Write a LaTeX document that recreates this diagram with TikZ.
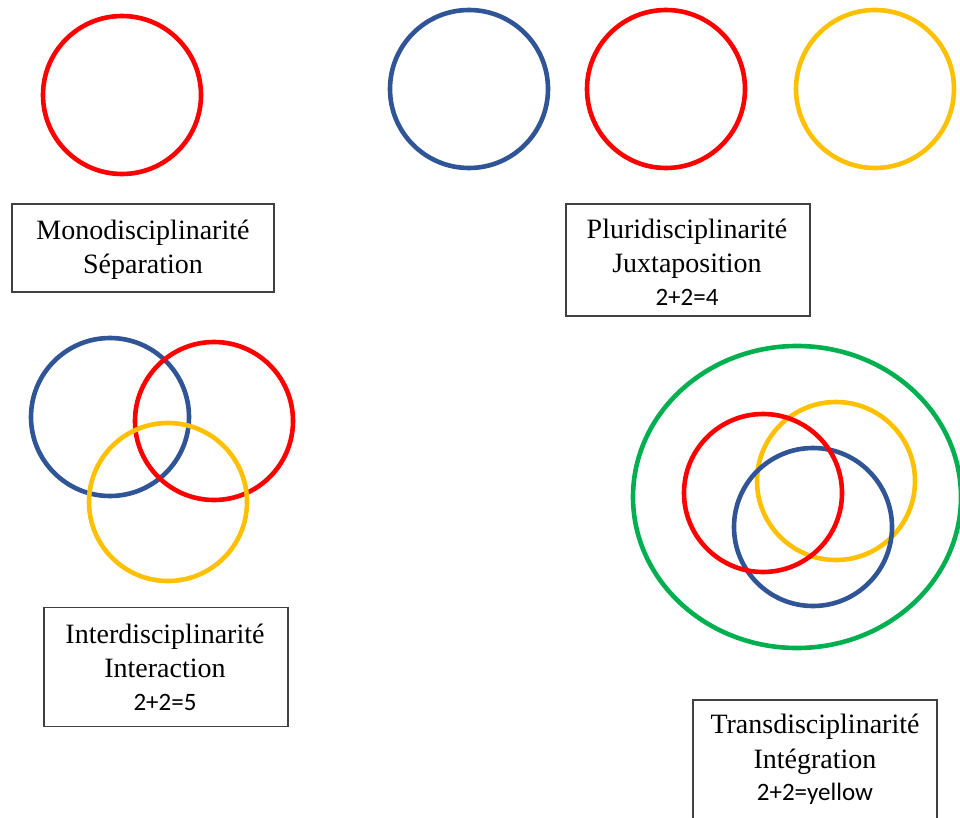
\documentclass[tikz,border=0pt]{standalone}
\usepackage{fontspec}
\setmainfont{Liberation Serif}
\newfontfamily\calib{Carlito}
\definecolor{cred}{HTML}{FF0000}
\definecolor{cblue}{HTML}{2F5597}
\definecolor{cyellow}{HTML}{FFC000}
\definecolor{cgreen}{HTML}{00B050}
\definecolor{cframe}{HTML}{404040}
\begin{document}
\begin{tikzpicture}[x=1pt,y=-1pt,
  ring/.style={line width=4.6pt},
  frame/.style={draw=cframe,line width=1.3pt,fill=none},
  tm/.style={anchor=base,inner sep=0pt,font=\fontsize{28}{32}\selectfont},
  cb/.style={anchor=base,inner sep=0pt,font=\calib\fontsize{25}{28}\selectfont}]
\useasboundingbox (0,0) rectangle (960,818);
\fill[white] (0,0) rectangle (960,818);
% Monodisciplinarite
\draw[ring,cred] (122,95) circle[radius=79];
\node[frame,minimum width=262,minimum height=88,inner sep=0pt] (mono) at (143,248) {};
\node[tm] (mono1) at (143,240) {Monodisciplinarité};
\node[tm] (mono2) at (143,273) {Séparation};
% Pluridisciplinarite
\draw[ring,cblue] (469,89) circle[radius=79];
\draw[ring,cred] (666,89) circle[radius=79];
\draw[ring,cyellow] (875,89) circle[radius=79];
\node[frame,minimum width=244,minimum height=112,inner sep=0pt] (pluri) at (688,260) {};
\node[tm] (pluri1) at (687,238) {Pluridisciplinarité};
\node[tm] (pluri2) at (687,272) {Juxtaposition};
\node[cb] (pluri3) at (687,305) {2+2=4};
% Interdisciplinarite
\draw[ring,cblue] (110,417) circle[radius=79];
\draw[ring,cred] (214,421) circle[radius=79];
\draw[ring,cyellow] (168,502) circle[radius=79];
\node[frame,minimum width=244,minimum height=119,inner sep=0pt] (inter) at (166,667) {};
\node[tm] (inter1) at (165,643) {Interdisciplinarité};
\node[tm] (inter2) at (165,677) {Interaction};
\node[cb] (inter3) at (165,710) {2+2=5};
% Transdisciplinarite
\draw[ring,cgreen] (797,497) ellipse[x radius=164,y radius=151];
\draw[ring,cyellow] (836,481) circle[radius=79];
\draw[ring,cblue] (813,527) circle[radius=79];
\draw[ring,cred] (763,493) circle[radius=79];
\node[frame,minimum width=244,minimum height=130,inner sep=0pt] (trans) at (815,765) {};
\node[tm] (trans1) at (815,733) {Transdisciplinarité};
\node[tm] (trans2) at (815,768) {Intégration};
\node[cb] (trans3) at (815,800) {2+2=yellow};
\end{tikzpicture}
\end{document}
